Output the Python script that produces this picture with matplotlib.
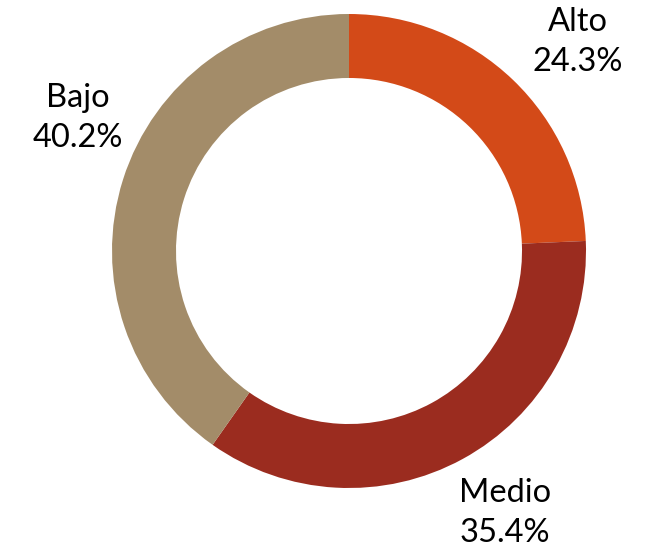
import matplotlib.pyplot as plt

labels = ['Alto', 'Medio', 'Bajo']
values = [24.3, 35.4, 40.2]
colors = ['#D34A18', '#9B2C1F', '#A38C69']

# label centres in data units (pie radius = 1)
label_pos = [(0.966, 0.882), (0.658, -1.105), (-1.143, 0.561)]

plt.rcParams['font.family'] = ['Lato', 'DejaVu Sans']

fig = plt.figure(figsize=(6.54, 5.54), dpi=100)
ax = fig.add_axes([0, 0, 1, 1])

ax.pie(values, colors=colors, startangle=90, counterclock=False,
       radius=1, wedgeprops=dict(width=0.27, edgecolor='none'))

for lab, val, (x, y) in zip(labels, values, label_pos):
    ax.text(x, y, f"{lab}\n{val:.1f}%", ha='center', va='center',
            fontsize=23.5, linespacing=1.4, color='black')

ax.set_xlim(-349 / 237, (654 - 349) / 237)
ax.set_ylim(-(554 - 251) / 237, 251 / 237)
ax.set_aspect('equal')
ax.axis('off')

fig.savefig('out.png', dpi=100)
